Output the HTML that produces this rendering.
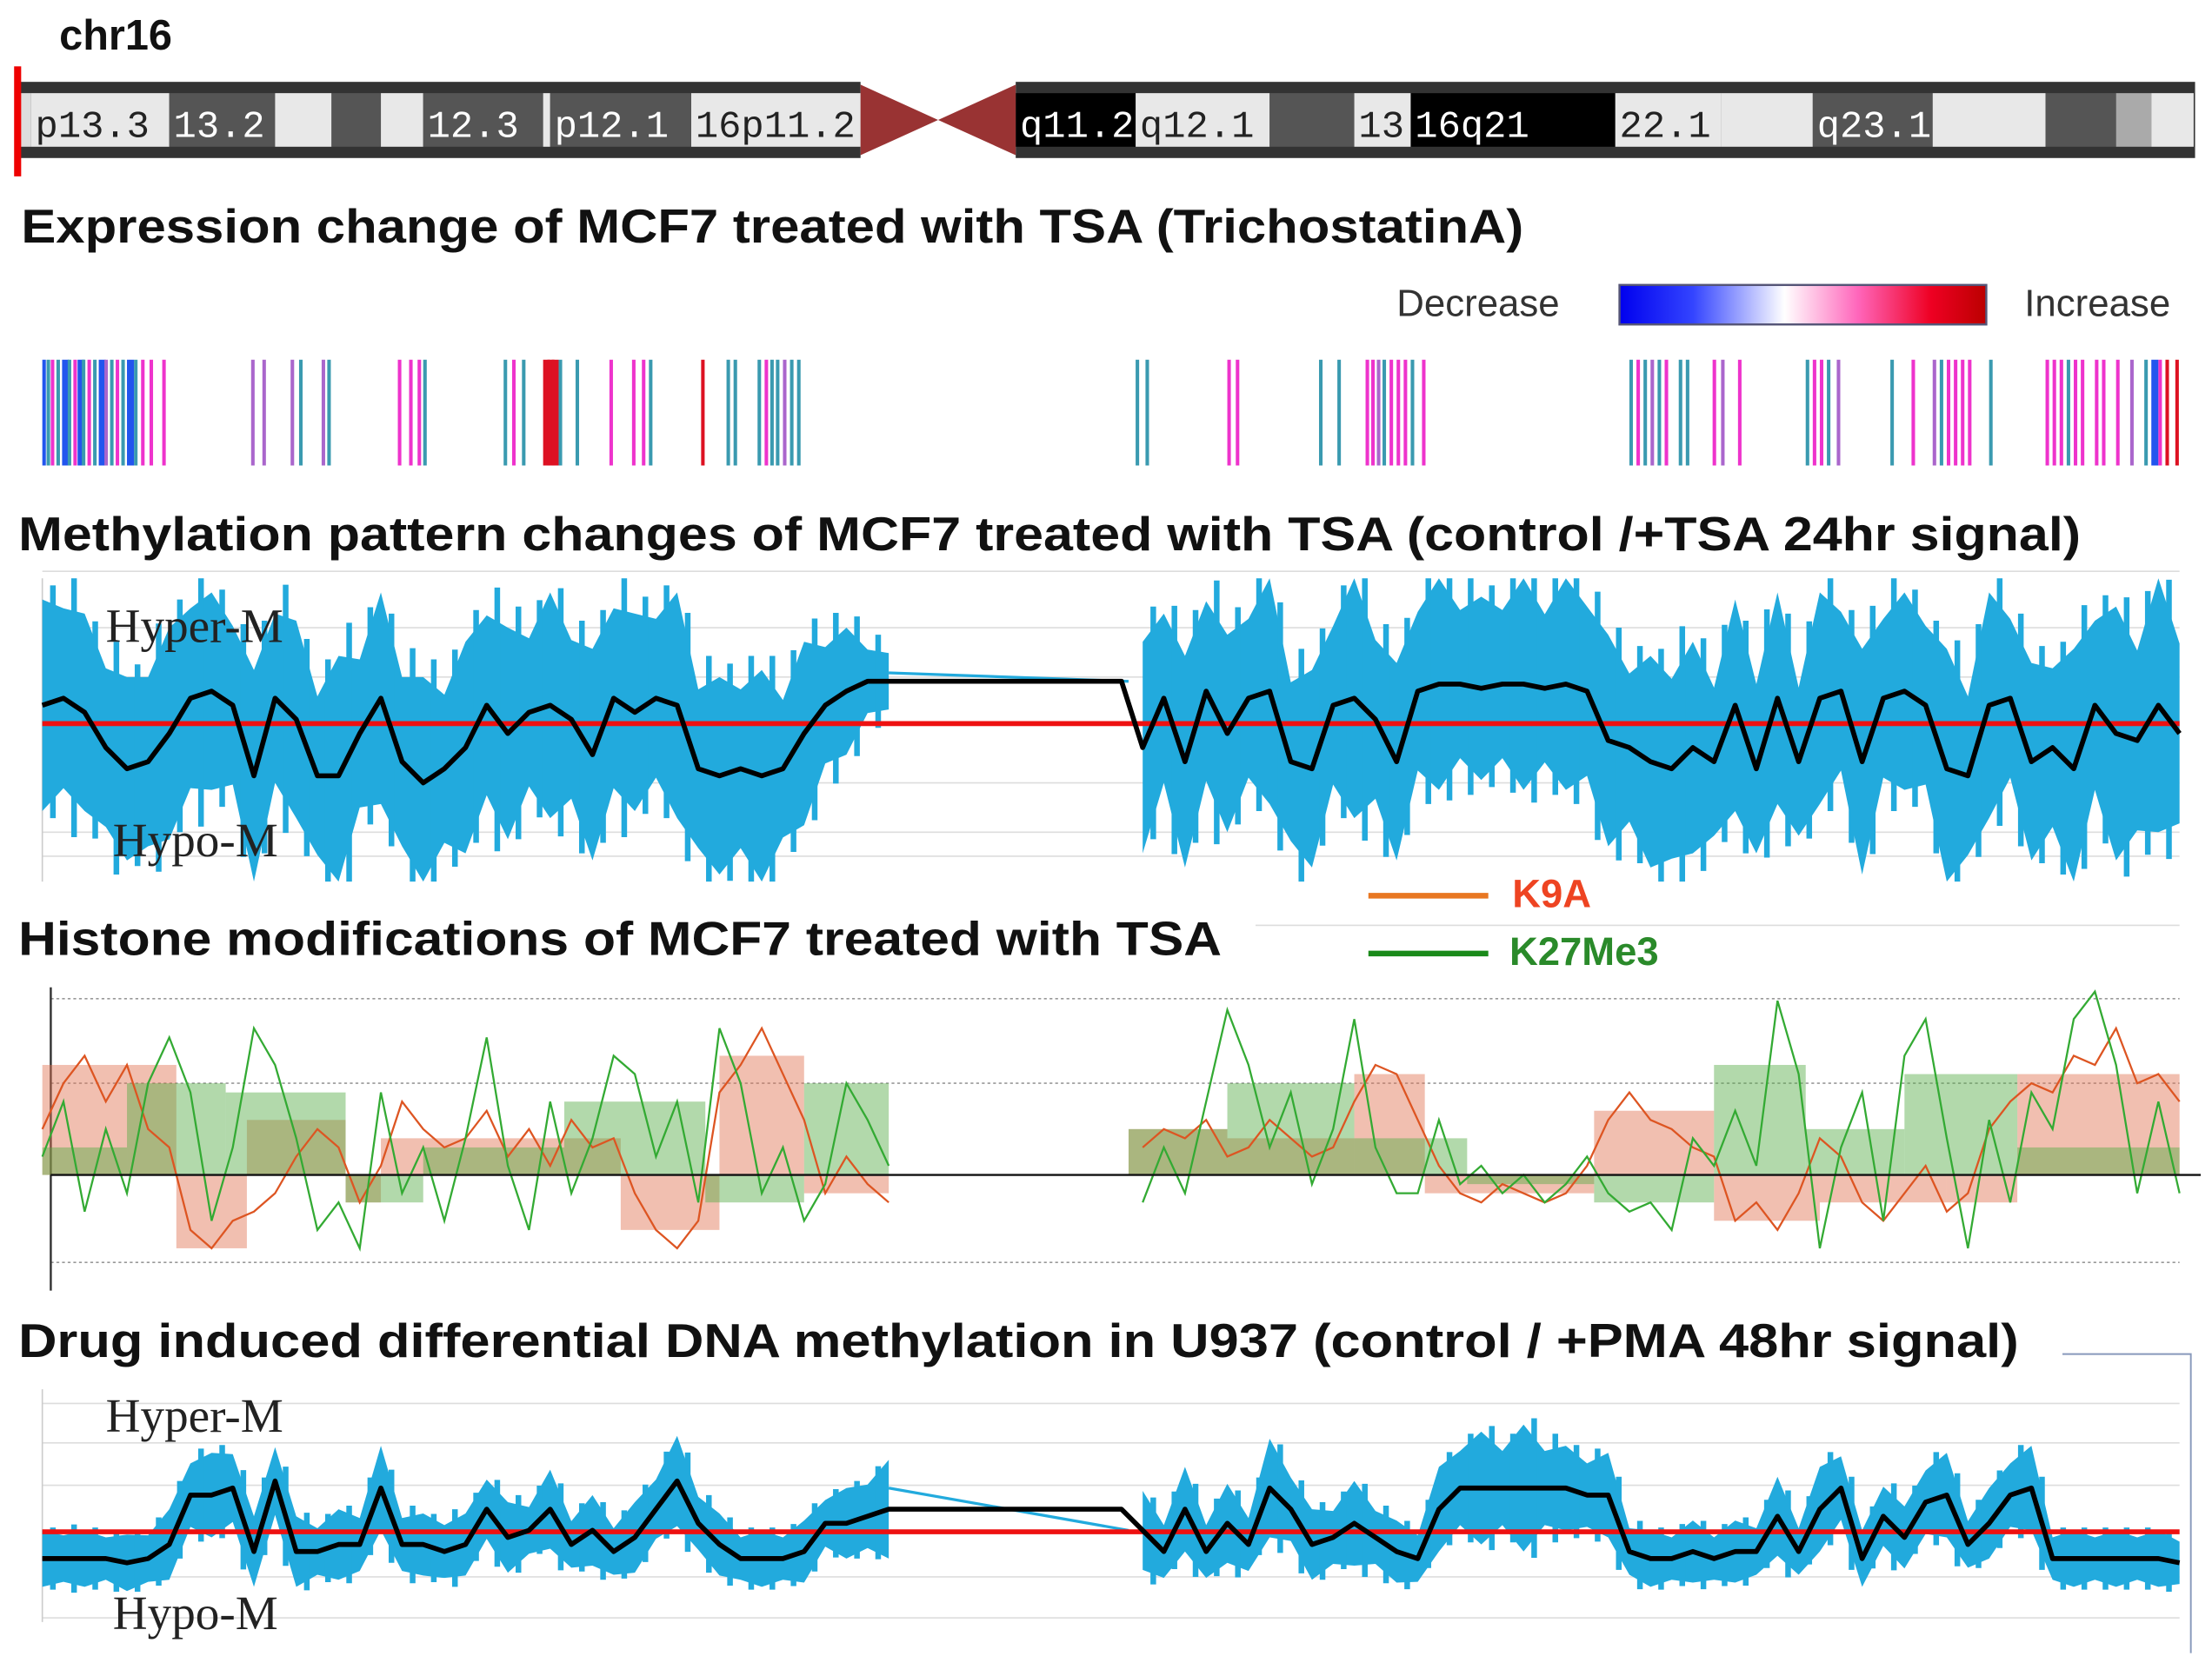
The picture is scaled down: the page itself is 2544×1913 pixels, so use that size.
<!DOCTYPE html>
<html><head><meta charset="utf-8"><style>
html,body{margin:0;padding:0;background:#fff;}
svg{display:block;}
.t{font-family:"Liberation Sans",sans-serif;font-weight:bold;fill:#111;}
.s{font-family:"Liberation Serif",serif;fill:#222;}
.b{font-family:"Liberation Mono",monospace;font-size:27px;}
</style></head><body>
<svg id="fig" width="2544" height="1913" viewBox="0 0 1568 1179" xmlns="http://www.w3.org/2000/svg">
<text class="t" x="42" y="35" font-size="30">chr16</text>
<g id="ideo"></g>
<rect x="10" y="47" width="5" height="78" fill="#e00"/>
<text class="t" x="15" y="172" font-size="34" textLength="1065" lengthAdjust="spacingAndGlyphs">Expression change of MCF7 treated with TSA (TrichostatinA)</text>
<defs><linearGradient id="grad" x1="0" x2="1"><stop offset="0" stop-color="#0000ee"/><stop offset="0.2" stop-color="#3344ff"/><stop offset="0.45" stop-color="#ffffff"/><stop offset="0.65" stop-color="#ff66bb"/><stop offset="0.85" stop-color="#ee0022"/><stop offset="1" stop-color="#bb0000"/></linearGradient></defs>
<text x="990" y="224" font-family="Liberation Sans,sans-serif" font-size="27" fill="#333">Decrease</text>
<rect x="1148" y="202" width="260" height="28" fill="url(#grad)" stroke="#557" stroke-width="1.5"/>
<text x="1435" y="224" font-family="Liberation Sans,sans-serif" font-size="27" fill="#333">Increase</text>
<g id="expr"></g>
<text class="t" x="13" y="390" font-size="34" textLength="1462" lengthAdjust="spacingAndGlyphs">Methylation pattern changes of MCF7 treated with TSA (control /+TSA 24hr signal)</text>
<g id="p2"></g>
<text class="t" x="13" y="677" font-size="34" textLength="853" lengthAdjust="spacingAndGlyphs">Histone modifications of MCF7 treated with TSA</text>
<line x1="890" y1="656" x2="1545" y2="656" stroke="#ddd" stroke-width="1"/>
<line x1="970" y1="635" x2="1055" y2="635" stroke="#e87722" stroke-width="4"/>
<text class="t" x="1072" y="643" font-size="28" style="fill:#ee4422">K9A</text>
<line x1="970" y1="676" x2="1055" y2="676" stroke="#1a8a1a" stroke-width="4"/>
<text class="t" x="1070" y="684" font-size="28" style="fill:#2a8a2a">K27Me3</text>
<g id="p3"></g>
<text class="t" x="13" y="962" font-size="34" textLength="1418" lengthAdjust="spacingAndGlyphs">Drug induced differential DNA methylation in U937 (control / +PMA 48hr signal)</text>
<polyline points="1462,960 1553,960 1553,1172" fill="none" stroke="#8899bb" stroke-width="1.2"/>
<g id="p4"></g>
</svg>
<script>
const pos=[0,15,30,45,60,75,90,105,120,135,150,165,180,195,210,225,240,255,270,285,300,315,330,345,360,375,390,405,420,435,450,465,480,495,510,525,540,555,570,585,600,615,630,645,660,675,690,705,720,735,750,765,780,795,810,825,840,855,870,885,900,915,930,945,960,975,990,1005,1020,1035,1050,1065,1080,1095,1110,1125,1140,1155,1170,1185,1200,1215,1230,1245,1260,1275,1290,1305,1320,1335,1350,1365,1380,1395,1410,1425,1440,1455,1470,1485,1500,1515];
const mcfMean=[0.13,0.18,0.08,-0.17,-0.32,-0.27,-0.07,0.18,0.23,0.13,-0.37,0.18,0.03,-0.37,-0.37,-0.07,0.18,-0.27,-0.42,-0.32,-0.17,0.13,-0.07,0.08,0.13,0.03,-0.22,0.18,0.08,0.18,0.13,-0.32,-0.37,-0.32,-0.37,-0.32,-0.07,0.13,0.23,0.30,0.30,
0.30,0.30,0.30,0.30,0.30,0.30,0.30,0.30,0.30,0.30,0.30,
-0.17,0.18,-0.27,0.23,-0.07,0.18,0.23,-0.27,-0.32,0.13,0.18,0.03,-0.27,0.23,0.28,0.28,0.25,0.28,0.28,0.25,0.28,0.23,-0.12,-0.17,-0.27,-0.32,-0.17,-0.27,0.13,-0.32,0.18,-0.27,0.18,0.23,-0.27,0.18,0.23,0.13,-0.32,-0.37,0.13,0.18,-0.27,-0.17,-0.32,0.13,-0.07,-0.12,0.13,-0.07];
const mcfSpread=[0.75,0.85,0.7,0.75,0.65,0.8,0.75,0.85,0.7,0.75,0.75,0.8,0.7,0.75,0.85,0.7,0.75,0.8,0.75,0.7,0.75,0.85,0.75,0.7,0.8,0.75,0.75,0.85,0.7,0.75,0.8,0.75,0.7,0.75,0.75,0.65,0.65,0.55,0.45,0.3,0.2,
null,null,null,null,null,null,null,null,null,null,null,
0.75,0.8,0.75,0.85,0.7,0.75,0.8,0.75,0.7,0.75,0.85,0.75,0.7,0.75,0.75,0.7,0.65,0.7,0.75,0.7,0.75,0.8,0.75,0.7,0.75,0.85,0.75,0.7,0.75,0.8,0.75,0.7,0.75,0.75,0.8,0.75,0.7,0.75,0.85,0.75,0.8,0.75,0.7,0.75,0.85,0.8,0.9,0.85,0.9,0.85];
const u937Mean=[-0.19,-0.19,-0.19,-0.19,-0.22,-0.19,-0.09,0.26,0.26,0.31,-0.14,0.36,-0.14,-0.14,-0.09,-0.09,0.31,-0.09,-0.09,-0.14,-0.09,0.16,-0.04,0.01,0.16,-0.09,0.01,-0.14,-0.04,0.16,0.36,0.06,-0.09,-0.19,-0.19,-0.19,-0.14,0.06,0.06,0.11,0.16,
0.16,0.16,0.16,0.16,0.16,0.16,0.16,0.16,0.16,0.16,0.16,
0.01,-0.14,0.16,-0.14,0.06,-0.09,0.31,0.16,-0.09,-0.04,0.06,-0.04,-0.14,-0.19,0.16,0.31,0.31,0.31,0.31,0.31,0.31,0.26,0.26,-0.14,-0.19,-0.19,-0.14,-0.19,-0.14,-0.14,0.11,-0.14,0.16,0.31,-0.19,0.11,-0.04,0.21,0.26,-0.09,0.06,0.26,0.31,-0.19,-0.19,-0.19,-0.19,-0.19,-0.19,-0.22];
const u937Spread=[0.2,0.22,0.2,0.2,0.2,0.22,0.25,0.3,0.3,0.32,0.25,0.32,0.25,0.22,0.25,0.25,0.3,0.25,0.22,0.25,0.22,0.28,0.25,0.22,0.28,0.22,0.25,0.22,0.25,0.28,0.32,0.25,0.22,0.2,0.2,0.2,0.22,0.22,0.25,0.3,0.35,
null,null,null,null,null,null,null,null,null,null,null,
0.28,0.25,0.3,0.25,0.28,0.25,0.35,0.3,0.25,0.25,0.3,0.25,0.22,0.22,0.3,0.35,0.4,0.35,0.45,0.35,0.3,0.3,0.3,0.22,0.2,0.2,0.22,0.2,0.22,0.22,0.28,0.22,0.3,0.3,0.2,0.28,0.22,0.3,0.3,0.22,0.25,0.3,0.3,0.2,0.2,0.2,0.2,0.2,0.2,0.2];
const k9a=[0.5,1,1.3,0.8,1.2,0.5,0.3,-0.6,-0.8,-0.5,-0.4,-0.2,0.2,0.5,0.3,-0.3,0.1,0.8,0.5,0.3,0.4,0.7,0.2,0.5,0.1,0.6,0.3,0.4,-0.2,-0.6,-0.8,-0.5,0.9,1.2,1.6,1.1,0.6,-0.2,0.2,-0.1,-0.3,
null,null,null,null,null,null,null,null,null,null,null,
0.3,0.5,0.4,0.6,0.2,0.3,0.6,0.4,0.2,0.3,0.8,1.2,1.1,0.6,0.1,-0.2,-0.3,-0.1,-0.2,-0.3,-0.2,0.1,0.6,0.9,0.6,0.5,0.3,0.2,-0.5,-0.3,-0.6,-0.2,0.4,0.2,-0.3,-0.5,-0.2,0.1,-0.4,-0.2,0.5,0.8,1.0,0.9,1.3,1.2,1.6,1.0,1.1,0.8];
const k27=[0.2,0.8,-0.4,0.5,-0.2,1.0,1.5,0.9,-0.5,0.3,1.6,1.2,0.4,-0.6,-0.3,-0.8,0.9,-0.2,0.3,-0.5,0.4,1.5,0.1,-0.6,0.8,-0.2,0.4,1.3,1.1,0.2,0.8,-0.3,1.6,1.0,-0.2,0.3,-0.5,-0.1,1.0,0.6,0.1,
null,null,null,null,null,null,null,null,null,null,null,
-0.3,0.3,-0.2,0.8,1.8,1.2,0.3,0.9,-0.1,0.5,1.7,0.3,-0.2,-0.2,0.6,-0.1,0.1,-0.2,0,-0.3,-0.1,0.2,-0.2,-0.4,-0.3,-0.6,0.4,0.1,0.7,0.1,1.9,1.1,-0.8,0.3,0.9,-0.5,1.3,1.7,0.4,-0.8,0.6,-0.3,0.9,0.5,1.7,2.0,1.2,-0.2,0.8,-0.2];
const k9aBlockStart=[0,95,145,215,240,330,410,480,540,770,840,930,980,1100,1185,1260,1350,1400];
const k9aBlockEnd=[95,145,215,240,330,410,480,540,600,840,930,980,1100,1185,1260,1350,1400,1515];
const k9aBlockVal=[1.2,-0.8,0.6,-0.3,0.4,0.4,-0.6,1.3,-0.2,0.5,0.4,1.1,-0.2,0.7,-0.5,-0.3,-0.3,1.1];
const k27BlockStart=[0,60,130,215,270,370,470,540,770,840,930,1010,1100,1185,1250,1320,1400];
const k27BlockEnd=[60,130,215,270,370,470,540,600,840,930,1010,1100,1185,1250,1320,1400,1515];
const k27BlockVal=[0.3,1.0,0.9,-0.3,0.3,0.8,-0.3,1.0,0.5,1.0,0.4,-0.1,-0.3,1.2,0.5,1.1,0.3];
const exprPos=[0,3,6,10,14,18,22,25,28,32,36,40,44,48,52,56,60,65,70,76,85,148,156,176,182,198,202,252,260,266,270,327,333,340,355,358,361,366,378,402,418,425,430,467,485,490,507,512,516,520,525,530,535,775,782,840,846,905,918,938,942,946,950,955,960,965,970,978,1125,1130,1135,1140,1145,1150,1160,1165,1184,1190,1202,1250,1255,1260,1265,1272,1310,1325,1340,1345,1350,1355,1360,1365,1380,1420,1425,1430,1435,1440,1445,1455,1460,1470,1480,1490,1495,1500,1505,1512];
const exprVal=[-0.8,-0.5,0.6,-0.5,-0.9,-0.5,0.6,-0.9,-0.5,0.5,-0.5,-0.9,0.2,-0.5,0.6,-0.5,-0.9,-0.5,0.6,0.6,0.6,0.3,0.3,0.2,-0.6,0.3,-0.6,0.6,0.5,0.6,-0.5,-0.5,0.5,-0.5,1,1,0.9,-0.5,-0.5,0.5,0.6,0.6,-0.5,0.8,-0.5,-0.5,-0.5,0.5,-0.5,-0.5,0.3,-0.5,-0.5,-0.5,-0.5,0.5,0.6,-0.5,-0.5,0.5,0.6,0.3,-0.5,0.6,0.6,0.5,-0.5,0.5,-0.5,0.6,-0.5,0.3,-0.5,0.6,-0.5,-0.5,0.6,0.3,0.6,-0.5,0.5,0.6,-0.5,0.3,-0.5,0.6,0.3,-0.5,0.6,0.6,0.5,0.6,-0.5,0.6,0.5,0.6,-0.5,0.6,0.6,0.5,0.6,0.6,0.3,-0.5,-0.9,0.6];
const bandStart=[12,22,120,195,235,270,300,385,390,490,720,805,900,960,1000,1145,1220,1285,1370,1450,1500,1525];
const bandEnd=[22,120,195,235,270,300,385,390,490,610,805,900,960,1000,1145,1220,1285,1370,1450,1500,1525,1555];
const bandFill=["#ddd","#e8e8e8","#555","#e8e8e8","#555","#e8e8e8","#555","#e8e8e8","#555","#e8e8e8","#000","#e8e8e8","#555","#e8e8e8","#000","#e8e8e8","#e8e8e8","#555","#e8e8e8","#555","#aaa","#e8e8e8"];
const bandLabel=["","p13.3","13.2","","","","12.3","","p12.1","16p11.2","q11.2","q12.1","","13","16q21","22.1","","q23.1","","","",""];

const NS="http://www.w3.org/2000/svg";
function mk(tag,attrs,parent){const e=document.createElementNS(NS,tag);for(const k in attrs)e.setAttribute(k,attrs[k]);parent.appendChild(e);return e;}
const xs=b=>30+b;

const ideo=document.getElementById('ideo');
mk('rect',{x:12,y:58,width:598,height:54,fill:'#333'},ideo);
mk('rect',{x:720,y:58,width:836,height:54,fill:'#333'},ideo);
for(let i=0;i<bandStart.length;i++){
  const r=mk('rect',{x:bandStart[i],y:66,width:bandEnd[i]-bandStart[i],height:38,fill:bandFill[i]},ideo);
  
  
  if(bandLabel[i]){const dark=bandFill[i]!=="#e8e8e8";
    const t=mk('text',{x:bandStart[i]+3,y:97,class:'b',fill:dark?'#fff':'#222'},ideo);t.textContent=bandLabel[i];
    
    }
}
const cen=mk('polygon',{points:'610,60 665,85 720,60 720,110 665,85 610,110',fill:'#993333'},ideo);



function exprColor(v){if(v<=-0.8)return '#2255ee';if(v<0)return '#3a9ab0';if(v<0.4)return '#aa66cc';if(v<0.8)return '#ee33cc';return '#dd1122';}
const ex=document.getElementById('expr');
for(let i=0;i<exprPos.length;i++){
  const l=mk('rect',{x:xs(exprPos[i]),y:255,width:Math.abs(exprVal[i])>=0.9?5:2.5,height:75,fill:exprColor(exprVal[i])},ex);
  
  
}

function methPanel(g,y0,scale,top,bot,mean,spread,grid,hyperY,hypoY,gapBlue){
  for(const gy of grid){mk('line',{x1:30,y1:gy,x2:1545,y2:gy,stroke:'#ddd','stroke-width':1},g);}
  mk('line',{x1:30,y1:top,x2:30,y2:bot,stroke:'#ccc'},g);
  const ys=v=>y0-v*scale;
  let seg=[];const segs=[];
  for(let i=0;i<pos.length;i++){ if(spread[i]==null){if(seg.length)segs.push(seg);seg=[];} else seg.push(i);}
  if(seg.length)segs.push(seg);
  for(const s of segs){
    let up=[],dn=[];
    s.forEach((i,k)=>{const j=(k%2?0.75:1.0);up.push(xs(pos[i])+','+Math.max(top,ys(mean[i]+spread[i]*j)));dn.unshift(xs(pos[i])+','+Math.min(bot,ys(mean[i]-spread[i]*j)));});
    const p=mk('polygon',{points:up.concat(dn).join(' '),fill:'#22aadd'},g);
    
    
    s.forEach((i,k)=>{if(k+1<s.length){const xm=(xs(pos[i])+xs(pos[s[k+1]]))/2;const m=(mean[i]+mean[s[k+1]])/2;
      mk('line',{x1:xm,y1:Math.max(top,ys(m+spread[i]*1.1)),x2:xm,y2:Math.min(bot,ys(m-spread[i]*1.1)),stroke:'#22aadd','stroke-width':4},g);}});
  }
  if(gapBlue){mk('line',{x1:xs(pos[40]),y1:gapBlue[0],x2:xs(pos[52])-10,y2:gapBlue[1],stroke:'#22aadd','stroke-width':2},g);}
  mk('line',{x1:30,y1:y0,x2:1545,y2:y0,stroke:'#ee1111','stroke-width':3.5},g);
  const pts=pos.map((p,i)=>xs(p)+','+ys(mean[i])).join(' ');
  const ln=mk('polyline',{points:pts,fill:'none',stroke:'#000','stroke-width':3.5,'stroke-linejoin':'round'},g);
  
  
  const a=mk('text',{x:75,y:hyperY,class:'s','font-size':34},g);a.textContent='Hyper-M';
  
  
  const b=mk('text',{x:80,y:hypoY,class:'s','font-size':34},g);b.textContent='Hypo-M';
  
  
}
methPanel(document.getElementById('p2'),513,100,410,625,mcfMean,mcfSpread,[405,445,480,555,590,607],455,607,[477,483]);
methPanel(document.getElementById('p4'),1086,100,985,1150,u937Mean,u937Spread,[995,1023,1053,1118,1147],1015,1155,[1055,1085]);

const g3=document.getElementById('p3');
const y3=v=>833-v*65;
for(const gy of [708,768,895]){mk('line',{x1:36,y1:gy,x2:1545,y2:gy,stroke:'#999','stroke-width':1,'stroke-dasharray':'2,2'},g3);}
mk('line',{x1:36,y1:700,x2:36,y2:915,stroke:'#333','stroke-width':1.5},g3);
function blocks(st,en,val,fill,name){for(let i=0;i<st.length;i++){const yv=y3(val[i]);
  const r=mk('rect',{x:xs(st[i]),y:Math.min(yv,833),width:en[i]-st[i],height:Math.abs(yv-833),fill:fill,opacity:0.45},g3);
  
  }}
blocks(k9aBlockStart,k9aBlockEnd,k9aBlockVal,'#e07050','k9a-segment');
blocks(k27BlockStart,k27BlockEnd,k27BlockVal,'#55aa44','k27me3-segment');
function histLine(vals,col,name){let cur=[];const parts=[];
  for(let i=0;i<pos.length;i++){if(vals[i]==null){if(cur.length)parts.push(cur);cur=[];}else cur.push(xs(pos[i])+','+y3(vals[i]));}
  if(cur.length)parts.push(cur);
  for(const p of parts){const l=mk('polyline',{points:p.join(' '),fill:'none',stroke:col,'stroke-width':1.4},g3);
    
    }}
histLine(k9a,'#dd5522','k9a-line');
histLine(k27,'#33aa33','k27me3-line');
mk('line',{x1:36,y1:833,x2:1560,y2:833,stroke:'#111','stroke-width':1.5},g3);
</script>
</body></html>
